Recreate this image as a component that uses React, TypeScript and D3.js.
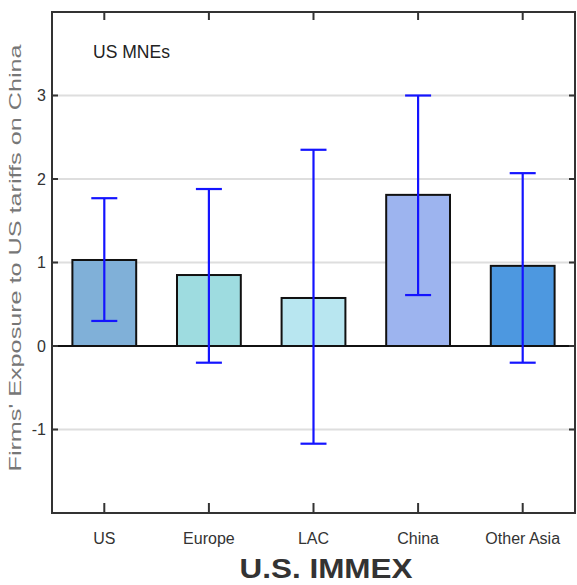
import React from "react";
import * as d3 from "d3";

const categories = ["US", "Europe", "LAC", "China", "Other Asia"];
const values = [1.03, 0.85, 0.575, 1.81, 0.96];
const errLow = [0.3, -0.2, -1.17, 0.61, -0.2];
const errHigh = [1.77, 1.88, 2.35, 3.0, 2.07];
const barColors = ["#80b0d8", "#9edce0", "#b8e6f0", "#9db4ef", "#4d98e0"];
const yTicks = [-1, 0, 1, 2, 3];
const gridTicks = [-1, 1, 2, 3];

const W = 577;
const H = 585;
const left = 52;
const right = 575;
const top = 12;
const bottom = 513;
const FONT = "'Liberation Sans', Arial, sans-serif";

export default function App() {
  const x = d3.scaleBand<string>().domain(categories).range([left, right]).paddingInner(0).paddingOuter(0);
  const y = d3.scaleLinear().domain([-2, 4]).range([bottom, top]);
  const bw = x.bandwidth() * 0.61;
  const cap = 26;
  const cx = (c: string) => (x(c) as number) + x.bandwidth() / 2;

  return (
    <svg width={W} height={H} style={{ position: "absolute", left: 0, top: 0, background: "#fff" }}>
      {gridTicks.map((t) => (
        <line key={"g" + t} x1={left} x2={right} y1={y(t)} y2={y(t)} stroke="#dedede" strokeWidth={2} />
      ))}
      {categories.map((c, i) => {
        const v = values[i];
        return (
          <rect
            key={"b" + c}
            x={cx(c) - bw / 2}
            width={bw}
            y={Math.min(y(v), y(0))}
            height={Math.abs(y(v) - y(0))}
            fill={barColors[i]}
            stroke="#111"
            strokeWidth={2}
          />
        );
      })}
      <line x1={left} x2={right} y1={y(0)} y2={y(0)} stroke="#111" strokeWidth={2} />
      {categories.map((c, i) => (
        <g key={"e" + c} stroke="#1414ff" strokeWidth={2.2}>
          <line x1={cx(c)} x2={cx(c)} y1={y(errLow[i])} y2={y(errHigh[i])} />
          <line x1={cx(c) - cap / 2} x2={cx(c) + cap / 2} y1={y(errLow[i])} y2={y(errLow[i])} />
          <line x1={cx(c) - cap / 2} x2={cx(c) + cap / 2} y1={y(errHigh[i])} y2={y(errHigh[i])} />
        </g>
      ))}
      <rect x={left} y={top} width={right - left} height={bottom - top} fill="none" stroke="#333" strokeWidth={2} />
      {categories.map((c) => (
        <g key={"t" + c} stroke="#333" strokeWidth={2}>
          <line x1={cx(c)} x2={cx(c)} y1={top} y2={top + 8} />
          <line x1={cx(c)} x2={cx(c)} y1={bottom} y2={bottom - 10} />
        </g>
      ))}
      {yTicks.map((t) => (
        <g key={"yt" + t} stroke="#333" strokeWidth={2}>
          <line x1={left} x2={left + 6} y1={y(t)} y2={y(t)} />
          <line x1={right} x2={right - 6} y1={y(t)} y2={y(t)} />
        </g>
      ))}
      {yTicks.map((t) => (
        <text key={"yl" + t} x={46} y={y(t)} dy="0.36em" textAnchor="end" fontFamily={FONT} fontSize={16} fill="#333">
          {t}
        </text>
      ))}
      {categories.map((c) => (
        <text key={"xl" + c} x={cx(c)} y={544} textAnchor="middle" fontFamily={FONT} fontSize={16} fill="#333">
          {c}
        </text>
      ))}
      <text x={93} y={58} fontFamily={FONT} fontSize={19} fill="#222" textLength={77} lengthAdjust="spacingAndGlyphs">
        US MNEs
      </text>
      <text
        transform={`translate(21, 258) rotate(-90)`}
        textAnchor="middle"
        fontFamily={FONT}
        fontSize={17}
        fill="#777"
        textLength={427}
        lengthAdjust="spacingAndGlyphs"
      >
        Firms' Exposure to US tariffs on China
      </text>
      <text
        x={326}
        y={578}
        textAnchor="middle"
        fontFamily={FONT}
        fontWeight="bold"
        fontSize={27}
        fill="#333"
        textLength={173}
        lengthAdjust="spacingAndGlyphs"
      >
        U.S. IMMEX
      </text>
    </svg>
  );
}
